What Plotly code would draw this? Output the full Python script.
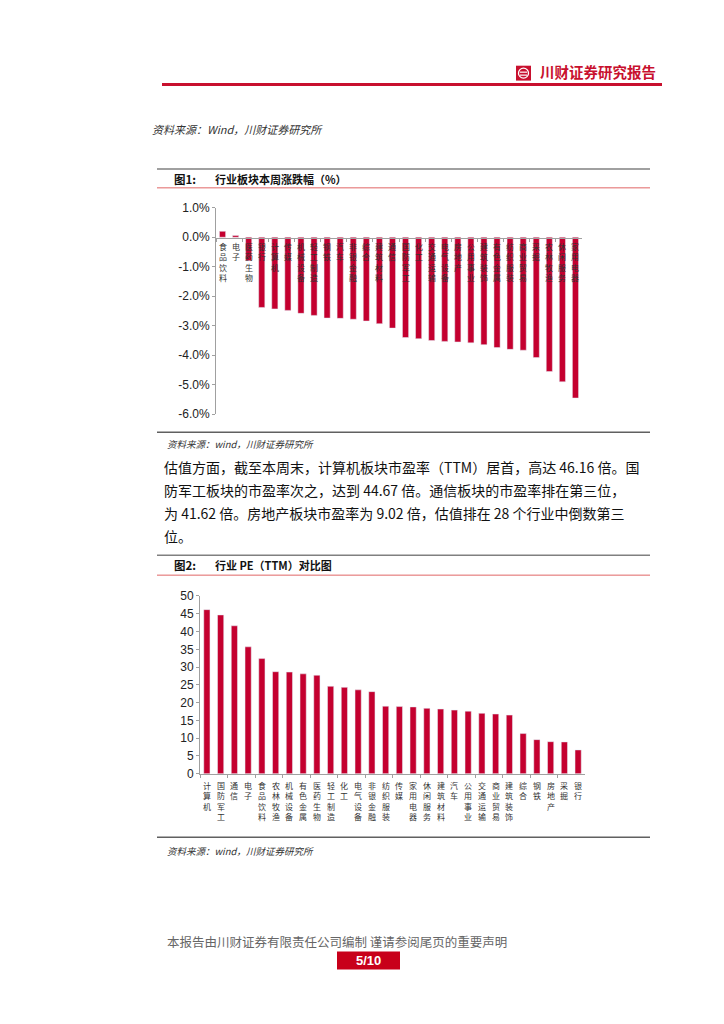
import plotly.graph_objects as go

# ---------------- data ----------------
chg_industries = ["食品饮料", "电子", "医药生物", "银行", "计算机", "传媒", "机械设备", "轻工制造",
                  "钢铁", "汽车", "非银金融", "综合", "建筑材料", "通信", "国防军工", "化工",
                  "交通运输", "电气设备", "房地产", "公用事业", "建筑装饰", "有色金属", "纺织服装",
                  "商业贸易", "采掘", "农林牧渔", "休闲服务", "家用电器"]
chg_values = [0.20, 0.06, -0.80, -2.38, -2.43, -2.48, -2.58, -2.65, -2.74, -2.75, -2.78, -2.84,
              -2.93, -3.08, -3.40, -3.44, -3.50, -3.53, -3.55, -3.58, -3.64, -3.74, -3.80,
              -3.83, -4.08, -4.55, -4.90, -5.45]
chg_ticks = [1, 0, -1, -2, -3, -4, -5, -6]
chg_ticklabels = ["1.0%", "0.0%", "-1.0%", "-2.0%", "-3.0%", "-4.0%", "-5.0%", "-6.0%"]

pe_industries = ["计算机", "国防军工", "通信", "电子", "食品饮料", "农林牧渔", "机械设备", "有色金属",
                 "医药生物", "轻工制造", "化工", "电气设备", "非银金融", "纺织服装", "传媒", "家用电器",
                 "休闲服务", "建筑材料", "汽车", "公用事业", "交通运输", "商业贸易", "建筑装饰", "综合",
                 "钢铁", "房地产", "采掘", "银行"]
pe_values = [46.16, 44.67, 41.62, 35.7, 32.4, 28.7, 28.6, 28.1, 27.7, 24.6, 24.3, 23.6, 23.1,
             19.0, 18.9, 18.8, 18.4, 18.2, 17.9, 17.6, 17.0, 16.8, 16.5, 11.3, 9.6, 9.02, 8.95, 6.7]
pe_ticks = [0, 5, 10, 15, 20, 25, 30, 35, 40, 45, 50]

paragraph = [
    "估值方面，截至本周末，计算机板块市盈率（TTM）居首，高达 46.16 倍。国",
    "防军工板块的市盈率次之，达到 44.67 倍。通信板块的市盈率排在第三位，",
    "为 41.62 倍。房地产板块市盈率为 9.02 倍，估值排在 28 个行业中倒数第三",
    "位。",
]

# ---------------- layout helpers ----------------
OFF = 8                      # page body margin of the html page
W, H = 724 - 2 * OFF, 1024 - 2 * OFF
BAR = "#C4002F"
CJK = "Noto Sans CJK SC"
LAT = "Liberation Sans, Arial"


def px(x):
    return (x - OFF) / W


def py(y):
    y = (y - 2.0) / 0.993
    return 1 - (y - OFF) / H


fig = go.Figure()

fig.add_trace(go.Bar(x=chg_industries, y=chg_values, marker_color=BAR, width=0.47,
                     xaxis="x", yaxis="y", showlegend=False))
fig.add_trace(go.Bar(x=pe_industries, y=pe_values, marker_color=BAR, width=0.45,
                     xaxis="x2", yaxis="y2", showlegend=False))

axis_grey = "#A0A0A0"

fig.update_layout(
    width=W, height=H,
    margin=dict(l=0, r=0, t=0, b=0),
    paper_bgcolor="white", plot_bgcolor="white",
    bargap=0.55,
    xaxis=dict(domain=[px(216), px(582)], anchor="free", position=py(234),
               showticklabels=False, showline=True, linecolor=axis_grey, linewidth=1,
               ticks="outside", ticklen=3, tickcolor=axis_grey, tickson="boundaries",
               showgrid=False, fixedrange=True),
    yaxis=dict(domain=[py(412), py(204)], range=[-6, 1], anchor="x",
               tickvals=chg_ticks, ticktext=chg_ticklabels,
               tickfont=dict(family=LAT, size=12, color="#222"),
               showline=True, linecolor=axis_grey, ticks="outside", ticklen=3,
               tickcolor=axis_grey, showgrid=False, zeroline=False),
    xaxis2=dict(domain=[px(200), px(585)], anchor="y2",
                showticklabels=False, showline=True, linecolor=axis_grey, linewidth=1,
                ticks="outside", ticklen=3, tickcolor=axis_grey, tickson="boundaries",
                showgrid=False),
    yaxis2=dict(domain=[py(774), py(595)], range=[0, 50], anchor="x2",
                tickvals=pe_ticks, tickfont=dict(family=LAT, size=12, color="#222"),
                showline=True, linecolor=axis_grey, ticks="outside", ticklen=3,
                tickcolor=axis_grey, showgrid=False, zeroline=False),
)

annotations = []
shapes = []

# vertical category labels chart 1
for name in chg_industries:
    annotations.append(dict(x=name, y=0, xref="x", yref="y", text="<br>".join(name),
                            showarrow=False, yanchor="top", xanchor="center", yshift=-2,
                            font=dict(family=CJK, size=8, color="#333")))
# vertical category labels chart 2
for name in pe_industries:
    annotations.append(dict(x=name, y=0, xref="x2", yref="y2", text="<br>".join(name),
                            showarrow=False, yanchor="top", xanchor="center", yshift=-4,
                            font=dict(family=CJK, size=8, color="#333")))


def text(x, y, s, size, color="#222", bold=False, italic=False, family=CJK, anchor="left"):
    if bold:
        s = "<b>" + s + "</b>"
    if italic:
        s = "<i>" + s + "</i>"
    annotations.append(dict(x=px(x), y=py(y), xref="paper", yref="paper", text=s,
                            showarrow=False, xanchor=anchor, yanchor="middle",
                            font=dict(family=family, size=size, color=color)))


def hline(x0, x1, y, color, width):
    shapes.append(dict(type="line", xref="paper", yref="paper", x0=px(x0), x1=px(x1),
                       y0=py(y), y1=py(y), line=dict(color=color, width=width)))


# header
hline(162, 662, 80, "#C8102E", 3)
shapes.append(dict(type="rect", xref="paper", yref="paper", x0=px(516), x1=px(531),
                   y0=py(76), y1=py(61), fillcolor="#C8102E", line=dict(width=0)))
shapes.append(dict(type="circle", xref="paper", yref="paper", x0=px(518.5), x1=px(528.5),
                   y0=py(73.5), y1=py(63.5), line=dict(color="white", width=1.3)))
hline(520, 527, 67.5, "white", 1.2)
hline(520, 527, 70.5, "white", 1.2)
text(538, 67, "川财证券研究报告", 14.5, color="#C8102E", bold=True)

text(150, 125, "资料来源：Wind，川财证券研究所", 11, color="#333", italic=True)

# figure 1 title block
hline(157, 650, 165, "#808080", 1.5)
text(172, 175, "图1:", 11.5, color="#111", bold=True)
text(213, 175, "行业板块本周涨跌幅（%）", 11, color="#111", bold=True)
hline(157, 650, 184, "#E06666", 1)
hline(157, 650, 430, "#606060", 1.5)
text(165, 442, "资料来源：wind，川财证券研究所", 9.5, color="#333", italic=True)

# paragraph
for i, line in enumerate(paragraph):
    text(162, 465 + i * 23.3, line, 14, color="#111")

# figure 2 title block
hline(157, 650, 554, "#808080", 1.5)
text(172, 564, "图2:", 11.5, color="#111", bold=True)
text(213, 564, "行业 PE（TTM）对比图", 11, color="#111", bold=True)
hline(157, 650, 574, "#E06666", 1)
hline(157, 650, 838, "#606060", 1.5)
text(165, 852, "资料来源：wind，川财证券研究所", 9.5, color="#333", italic=True)

# footer
text(165, 943, "本报告由川财证券有限责任公司编制 谨请参阅尾页的重要声明", 12.5, color="#666")
shapes.append(dict(type="rect", xref="paper", yref="paper", x0=px(337), x1=px(400),
                   y0=py(971), y1=py(953), fillcolor="#C8001A", line=dict(width=0)))
text(368.5, 962, "5/10", 13, color="white", bold=True, family=LAT, anchor="center")

fig.update_layout(annotations=annotations, shapes=shapes)

fig.write_html("out.html")
